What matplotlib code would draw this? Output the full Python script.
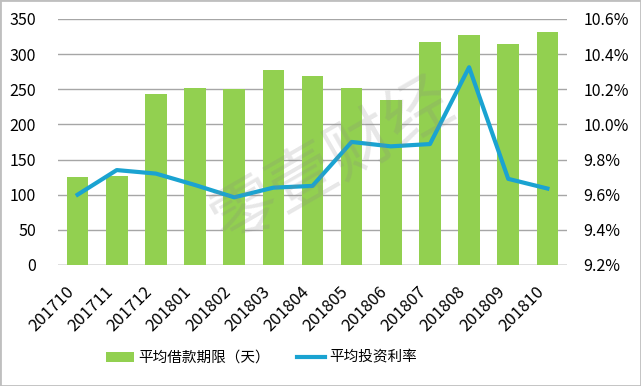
import matplotlib
matplotlib.use("Agg")
import matplotlib.pyplot as plt
import matplotlib.transforms as mtransforms
from matplotlib.patches import Rectangle

plt.rcParams['font.family'] = ['Noto Sans CJK SC', 'DejaVu Sans']

months = ['201710', '201711', '201712', '201801', '201802', '201803', '201804',
          '201805', '201806', '201807', '201808', '201809', '201810']
avg_term_days = [125, 127, 243, 252, 250, 277, 269, 252, 234, 317, 327, 315, 332]
avg_rate_pct = [9.60, 9.74, 9.72, 9.655, 9.585, 9.64, 9.65, 9.90, 9.875, 9.888,
                10.325, 9.69, 9.635]

bar_color = '#92D050'
line_color = '#1AA3D1'

fig = plt.figure(figsize=(6.41, 3.86), dpi=100)
ax = fig.add_axes([0.0905, 0.3135, 0.794, 0.6375])
x = range(len(months))

ax.bar(x, avg_term_days, width=0.55, color=bar_color, zorder=2,
       label='平均借款期限（天）')
ax.set_ylim(0, 350)
ax.set_yticks(range(0, 351, 50))
ax.set_xlim(-0.5, len(months) - 0.5)
ax.set_xticks(list(x))
ax.set_xticklabels(months, rotation=45, ha='right', va='top', fontsize=12)
shift = mtransforms.ScaledTranslation(4 / 100, 0, fig.dpi_scale_trans)
for lbl in ax.get_xticklabels():
    lbl.set_transform(lbl.get_transform() + shift)
ax.grid(axis='y', color='#A6A6A6', linewidth=1, zorder=0)
for s in ax.spines.values():
    s.set_visible(False)
ax.axhline(0, color='#A6A6A6', linewidth=1, zorder=1)
ax.tick_params(axis='both', length=0)
ax.tick_params(axis='y', pad=16, labelsize=11.5)
ax.tick_params(axis='x', pad=13)

ax2 = ax.twinx()
ax2.plot(x, avg_rate_pct, color=line_color, linewidth=3, zorder=3,
         label='平均投资利率')
ax2.set_ylim(9.2, 10.6)
ax2.set_yticks([9.2, 9.4, 9.6, 9.8, 10.0, 10.2, 10.4, 10.6])
ax2.set_yticklabels(['%.1f%%' % v for v in ax2.get_yticks()])
ax2.tick_params(axis='y', length=0, labelsize=11.5, pad=12)
for s in ax2.spines.values():
    s.set_visible(False)

# watermark
fig.text(0.52, 0.58, '零壹财经', fontsize=48, color='#888888', alpha=0.2,
         rotation=30, ha='center', va='center', zorder=0)

h1, l1 = ax.get_legend_handles_labels()
h2, l2 = ax2.get_legend_handles_labels()
fig.legend(h1 + h2, l1 + l2, loc='center', bbox_to_anchor=(0.408, 0.073),
           ncol=2, frameon=False, fontsize=10.5, handlelength=1.9,
           columnspacing=1.9, handletextpad=0.3)

fig.patches.append(Rectangle((0, 0), 1, 1, transform=fig.transFigure,
                             fill=False, edgecolor='#BFBFBF', linewidth=2))

fig.savefig('out.png', dpi=100)
